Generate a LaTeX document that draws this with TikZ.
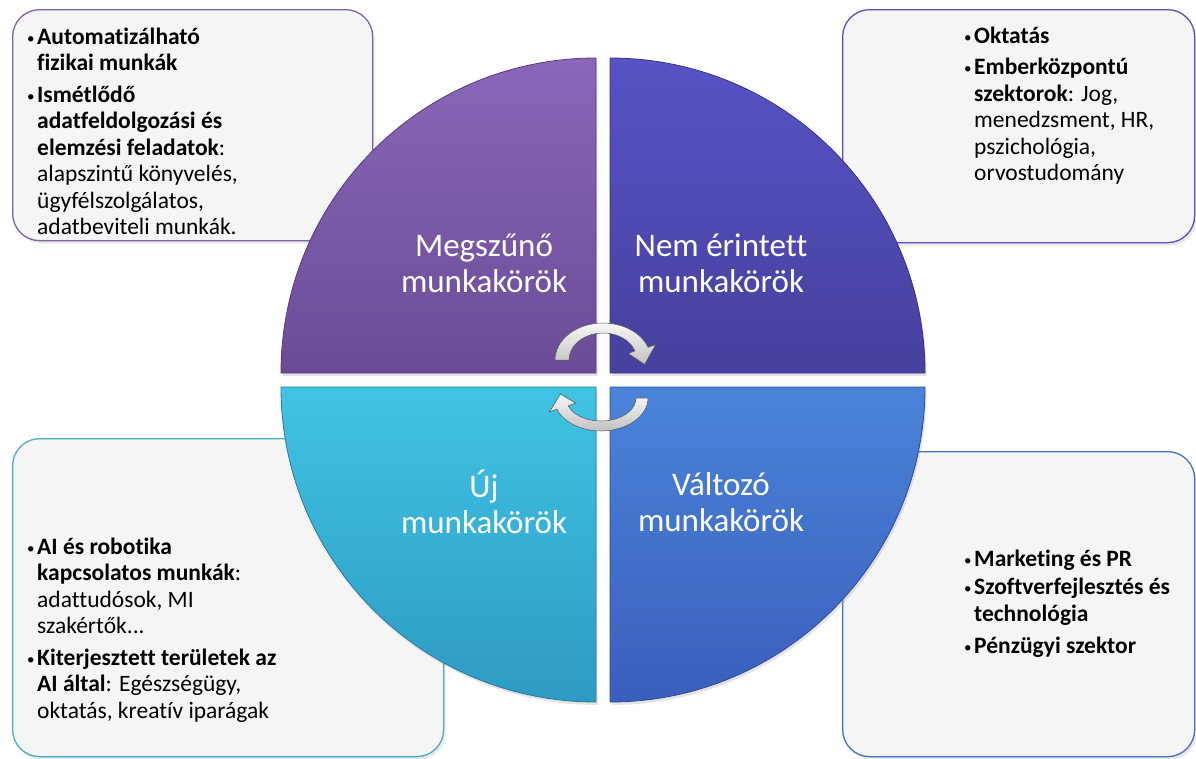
\documentclass[tikz,border=0pt]{standalone}
\usepackage{fontspec}
\setmainfont[Ligatures=NoCommon]{Carlito}
\usetikzlibrary{calc,shadows}
\definecolor{qTLt}{HTML}{8A66B8}
\definecolor{qTLb}{HTML}{6A4C96}
\definecolor{qTRt}{HTML}{5753C4}
\definecolor{qTRb}{HTML}{46409E}
\definecolor{qBLt}{HTML}{40C4E4}
\definecolor{qBLb}{HTML}{2E9AC4}
\definecolor{qBRt}{HTML}{4A84D9}
\definecolor{qBRb}{HTML}{3A5EBB}
\definecolor{bTL}{HTML}{8064A2}
\definecolor{bTR}{HTML}{5A52B4}
\definecolor{bBL}{HTML}{4BACC6}
\definecolor{bBR}{HTML}{4472C4}
\definecolor{boxfill}{HTML}{F5F5F5}
\newcommand\bul{\makebox[10pt][l]{\fontsize{15}{15}\selectfont\raisebox{1pt}{•}}}
\newcommand\ind{\hspace*{10pt}}
\begin{document}
\begin{tikzpicture}[x=1pt,y=1pt,
  infobox/.style={rectangle, rounded corners=27pt, fill=boxfill, line width=1.3pt, inner sep=0pt, anchor=north west,
    drop shadow={shadow xshift=2pt, shadow yshift=-3pt, opacity=0.18}},
  boxtext/.style={anchor=north west, align=left, inner sep=0pt, text=black, font=\fontsize{23.5}{26.5}\selectfont},
  qlabel/.style={text=white, align=center, inner sep=0pt, font=\fontsize{33}{36}\selectfont},
  quad/.style={draw=#1, line width=0.8pt, drop shadow={shadow xshift=1.5pt, shadow yshift=-3pt, opacity=0.22}},
  cyc/.style={top color=gray!6, bottom color=gray!48, draw=gray!65!black, line width=0.5pt}
]
\useasboundingbox (0,0) rectangle (1196,-758);
\fill[white] (0,0) rectangle (1196,-758);

% info boxes
\node[infobox, draw=bTL, minimum width=360pt, minimum height=231pt] (boxTL) at (12,-9) {};
\node[infobox, draw=bTR, minimum width=352pt, minimum height=233pt] (boxTR) at (842,-9) {};
\node[infobox, draw=bBL, minimum width=431pt, minimum height=318pt] (boxBL) at (12,-438) {};
\node[infobox, draw=bBR, minimum width=352pt, minimum height=305pt] (boxBR) at (842,-451) {};

% quadrants
\path[top color=qTLt, bottom color=qTLb, quad=qTLb!80!black]
  (596,-373) -- (281,-373) arc[start angle=180, end angle=90, radius=315pt] -- cycle;
\path[top color=qTRt, bottom color=qTRb, quad=qTRb!80!black]
  (610,-373) -- (610,-58) arc[start angle=90, end angle=0, radius=315pt] -- cycle;
\path[top color=qBLt, bottom color=qBLb, quad=qBLb!80!black]
  (596,-387) -- (281,-387) arc[start angle=180, end angle=270, radius=315pt] -- cycle;
\path[top color=qBRt, bottom color=qBRb, quad=qBRb!80!black]
  (610,-387) -- (925,-387) arc[start angle=0, end angle=-90, radius=315pt] -- cycle;

% quadrant labels
\node[qlabel] (lTL) at (484,-263) {Megszűnő\\munkakörök};
\node[qlabel] (lTR) at (721,-263) {Nem érintett\\munkakörök};
\node[qlabel] (lBL) at (484,-502) {Új\\munkakörök};
\node[qlabel] (lBR) at (721,-502) {Változó\\munkakörök};

% cycle arrows
\coordinate (U) at (603,-360);
\coordinate (L) at (601,-398);
\path[cyc] ($(U)+(180:48pt and 37pt)$) arc[start angle=180, end angle=20, x radius=48pt, y radius=37pt]
  -- ($(U)+(20:56pt and 45pt)$) -- ($(U)+(-8:42pt and 32pt)$) -- ($(U)+(20:27pt and 19pt)$)
  -- ($(U)+(20:34pt and 27pt)$) arc[start angle=20, end angle=180, x radius=34pt, y radius=27pt] -- cycle;
\path[cyc] ($(L)+(0:47pt and 33pt)$) arc[start angle=0, end angle=-160, x radius=47pt, y radius=33pt]
  -- ($(L)+(-160:55pt and 41pt)$) -- ($(L)+(-188:41pt and 28pt)$) -- ($(L)+(-160:27pt and 15pt)$)
  -- ($(L)+(-160:35pt and 23pt)$) arc[start angle=-160, end angle=0, x radius=35pt, y radius=23pt] -- cycle;

% box texts
\node[boxtext] (tTL) at (27,-25.5) {\strut\bul\textbf{Automatizálható}\\
\ind\textbf{fizikai munkák}\\[5pt]
\bul\textbf{Ismétlődő}\\
\ind\textbf{adatfeldolgozási és}\\
\ind\textbf{elemzési feladatok}:\\
\ind alapszintű könyvelés,\\
\ind ügyfélszolgálatos,\\
\ind adatbeviteli munkák.};

\node[boxtext] (tTR) at (964,-24.5) {\strut\bul\textbf{Oktatás}\\[5pt]
\bul\textbf{Emberközpontú}\\
\ind\textbf{szektorok}: Jog,\\
\ind menedzsment, HR,\\
\ind pszichológia,\\
\ind orvostudomány};

\node[boxtext] (tBL) at (27,-535.5) {\strut\bul\textbf{AI és robotika}\\
\ind\textbf{kapcsolatos munkák}:\\
\ind adattudósok, MI\\
\ind szakértők...\\[5pt]
\bul\textbf{Kiterjesztett területek az}\\
\ind\textbf{AI által}: Egészségügy,\\
\ind oktatás, kreatív iparágak};

\node[boxtext] (tBR) at (964,-547.5) {\strut\bul\textbf{Marketing és PR}\\[2pt]
\bul\textbf{Szoftverfejlesztés és}\\
\ind\textbf{technológia}\\[6pt]
\bul\textbf{Pénzügyi szektor}};
\end{tikzpicture}
\end{document}
